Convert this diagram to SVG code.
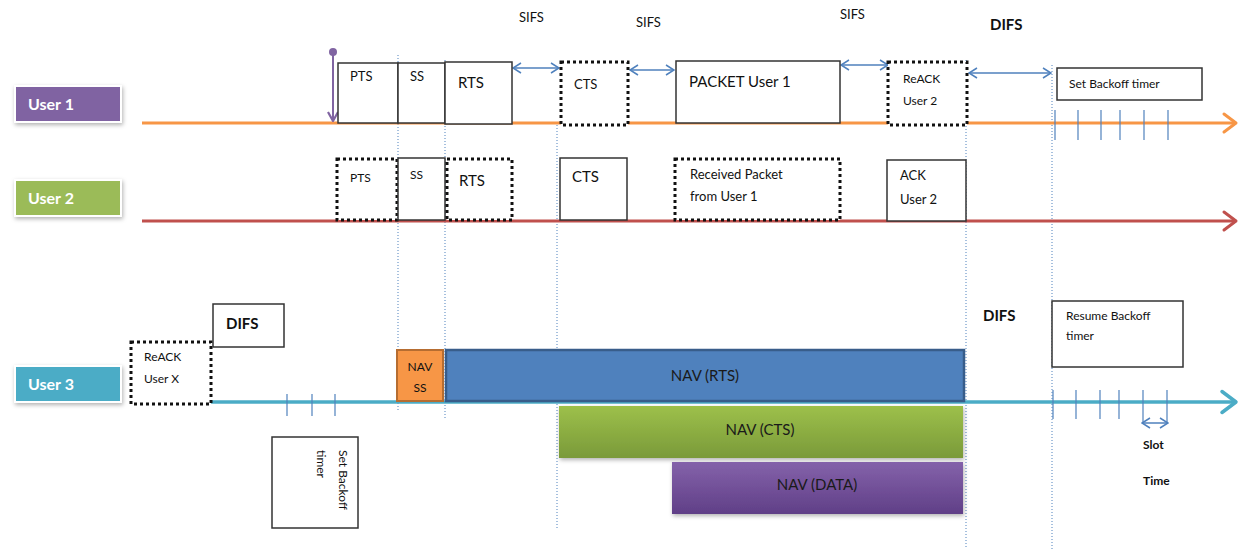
<svg xmlns="http://www.w3.org/2000/svg" width="1241" height="550" viewBox="0 0 1241 550">
<style>
text{font-family:Lato,"Open Sans","Liberation Sans",sans-serif;fill:#111}
.lbl{fill:#fff;font-weight:bold;font-size:16px}
.box{fill:#fff;stroke:#333;stroke-width:1.5}
.dot{fill:#fff;stroke:#111;stroke-width:3;stroke-dasharray:3 3}
.vd{stroke:#4F81BD;stroke-width:1;stroke-dasharray:1 2;fill:none}
.dbl{stroke:#4F81BD;stroke-width:1.5;fill:none}
.tick{stroke:#4F81BD;stroke-width:1.2}
.t12{font-size:12px}
.t13{font-size:13px}
.t15{font-size:15px}
.b15{font-size:15px;font-weight:bold}
.nav{font-size:15px;text-anchor:middle;fill:#1a1a1a}
</style>
<defs>
<filter id="sh" x="-10%" y="-20%" width="130%" height="150%"><feDropShadow dx="1" dy="2" stdDeviation="2" flood-color="#000" flood-opacity="0.3"/></filter>
<marker id="chev" markerWidth="6" markerHeight="8" refX="5" refY="4" orient="auto" markerUnits="strokeWidth"><polyline points="1,1 5,4 1,7" fill="none" stroke="context-stroke" stroke-width="1" stroke-linejoin="round" stroke-linecap="round"/></marker>
<marker id="ah" markerWidth="10" markerHeight="12" refX="8" refY="6" orient="auto-start-reverse" markerUnits="userSpaceOnUse"><polyline points="1,1 9,6 1,11" fill="none" stroke="#4F81BD" stroke-width="1.5"/></marker>
<marker id="pa" markerWidth="12" markerHeight="12" refX="6" refY="11" orient="0" markerUnits="userSpaceOnUse"><path d="M1,2 L6,11 L11,2" fill="none" stroke="#8064A2" stroke-width="2.2"/></marker>
<linearGradient id="gG" x1="0" y1="0" x2="0" y2="1"><stop offset="0" stop-color="#9DC04A"/><stop offset="1" stop-color="#7A9A3A"/></linearGradient>
<linearGradient id="gP" x1="0" y1="0" x2="0" y2="1"><stop offset="0" stop-color="#8462AA"/><stop offset="1" stop-color="#603F87"/></linearGradient>
</defs>
<rect width="1241" height="550" fill="#fff"/>

<g id="connectors">
<line x1="398" y1="55" x2="398" y2="410" class="vd"/>
<line x1="445" y1="60" x2="445" y2="420" class="vd"/>
<line x1="557" y1="125" x2="557" y2="528" class="vd"/>
<line x1="966" y1="60" x2="966" y2="549" class="vd"/>
<line x1="1052" y1="65" x2="1052" y2="549" class="vd"/>
<line x1="142" y1="123" x2="1236" y2="123" stroke="#F79646" stroke-width="3" marker-end="url(#chev)"/>
<line x1="142" y1="221" x2="1236" y2="221" stroke="#C0504D" stroke-width="3" marker-end="url(#chev)"/>
<line x1="142" y1="402" x2="1236" y2="402" stroke="#4BACC6" stroke-width="3.5" marker-end="url(#chev)"/>
<line x1="333" y1="52" x2="333" y2="121" stroke="#8064A2" stroke-width="2" marker-end="url(#pa)"/>
<circle cx="333" cy="52" r="4" fill="#8064A2"/>
<line x1="514" y1="68" x2="558" y2="68" class="dbl" marker-start="url(#ah)" marker-end="url(#ah)"/>
<line x1="631" y1="70" x2="673" y2="70" class="dbl" marker-start="url(#ah)" marker-end="url(#ah)"/>
<line x1="842" y1="65" x2="887" y2="65" class="dbl" marker-start="url(#ah)" marker-end="url(#ah)"/>
<line x1="970" y1="73" x2="1050" y2="73" class="dbl" marker-start="url(#ah)" marker-end="url(#ah)"/>
<line x1="1143" y1="423" x2="1167" y2="423" class="dbl" marker-start="url(#ah)" marker-end="url(#ah)"/>
<g class="tick">
<line x1="1055" y1="110" x2="1055" y2="140"/><line x1="1078" y1="110" x2="1078" y2="140"/><line x1="1101" y1="110" x2="1101" y2="140"/><line x1="1120" y1="110" x2="1120" y2="140"/><line x1="1144" y1="110" x2="1144" y2="140"/><line x1="1168" y1="110" x2="1168" y2="140"/>
<line x1="287" y1="394" x2="287" y2="416"/><line x1="312" y1="394" x2="312" y2="416"/><line x1="335" y1="394" x2="335" y2="416"/>
<line x1="1053" y1="390" x2="1053" y2="419"/><line x1="1076" y1="390" x2="1076" y2="419"/><line x1="1100" y1="390" x2="1100" y2="419"/><line x1="1119" y1="390" x2="1119" y2="419"/><line x1="1143" y1="390" x2="1143" y2="424"/><line x1="1167" y1="390" x2="1167" y2="424"/>
</g>
</g>

<g id="labels-top">
<text x="519" y="22" class="t13">SIFS</text>
<text x="636" y="27" class="t13">SIFS</text>
<text x="840" y="19" class="t13">SIFS</text>
<text x="990" y="30" class="b15">DIFS</text>
</g>

<g id="user1"><rect x="15" y="86" width="106" height="36" fill="#8064A2" stroke="#fff" stroke-width="2" filter="url(#sh)"/><text x="28" y="110" class="lbl">User 1</text></g>
<g id="u1-pts"><rect x="338" y="63" width="60" height="60" class="box"/><text x="350" y="81" class="t13">PTS</text></g>
<g id="u1-ss"><rect x="398" y="63" width="47" height="60" class="box"/><text x="410" y="81" class="t13">SS</text></g>
<g id="u1-rts"><rect x="445" y="62" width="67" height="62" class="box"/><text x="458" y="88" class="t15">RTS</text></g>
<g id="u1-cts"><rect x="561" y="62" width="67" height="63" class="dot"/><text x="574" y="89" class="t13">CTS</text></g>
<g id="u1-packet"><rect x="676" y="61" width="164" height="62" class="box"/><text x="689" y="87" class="t15">PACKET User 1</text></g>
<g id="u1-reack"><rect x="888" y="62" width="79" height="63" class="dot"/><text x="903" y="83" class="t12">ReACK</text><text x="903" y="105" class="t12">User 2</text></g>
<g id="u1-backoff"><rect x="1057" y="68" width="145" height="32" class="box"/><text x="1069" y="88" class="t12">Set Backoff timer</text></g>

<g id="user2"><rect x="15" y="180" width="106" height="36" fill="#9BBB59" stroke="#fff" stroke-width="2" filter="url(#sh)"/><text x="28" y="204" class="lbl">User 2</text></g>
<g id="u2-pts"><rect x="337" y="159" width="60" height="61" class="dot"/><text x="350" y="182" class="t12">PTS</text></g>
<g id="u2-ss"><rect x="398" y="158" width="47" height="62" class="box"/><text x="410" y="179" class="t12">SS</text></g>
<g id="u2-rts"><rect x="447" y="159" width="65" height="61" class="dot"/><text x="459" y="186" class="t15">RTS</text></g>
<g id="u2-cts"><rect x="560" y="158" width="67" height="62" class="box"/><text x="572" y="182" class="t15">CTS</text></g>
<g id="u2-recv"><rect x="675" y="159" width="165" height="61" class="dot"/><text x="690" y="179" class="t13">Received Packet</text><text x="690" y="201" class="t13">from User 1</text></g>
<g id="u2-ack"><rect x="887" y="160" width="79" height="61" class="box"/><text x="900" y="180" class="t13">ACK</text><text x="900" y="204" class="t13">User 2</text></g>

<g id="user3"><rect x="15" y="366" width="106" height="36" fill="#4BACC6" stroke="#fff" stroke-width="2" filter="url(#sh)"/><text x="28" y="390" class="lbl">User 3</text></g>
<g id="u3-reack"><rect x="131" y="342" width="80" height="62" class="dot"/><text x="144" y="361" class="t12">ReACK</text><text x="144" y="383" class="t12">User X</text></g>
<g id="u3-difs"><rect x="213" y="304" width="71" height="43" class="box"/><text x="226" y="329" class="b15">DIFS</text></g>
<g id="u3-backoff"><rect x="272" y="437" width="86" height="91" class="box"/><text transform="translate(339,450) rotate(90)" class="t12">Set Backoff</text><text transform="translate(317,450) rotate(90)" class="t12">timer</text></g>
<g id="nav-ss"><rect x="397" y="350" width="46" height="51" fill="#F79646" stroke="#B66D31" stroke-width="2"/><text x="420" y="371" class="t12" text-anchor="middle">NAV</text><text x="420" y="392" class="t12" text-anchor="middle">SS</text></g>
<g id="nav-rts"><rect x="446" y="350" width="518" height="51" fill="#4F81BD" stroke="#385D8A" stroke-width="2.5"/><text x="705" y="381" class="nav">NAV (RTS)</text></g>
<g id="nav-cts"><rect x="559" y="406" width="404" height="52" fill="url(#gG)" filter="url(#sh)"/><text x="760" y="435" class="nav">NAV (CTS)</text></g>
<g id="nav-data"><rect x="672" y="462" width="291" height="52" fill="url(#gP)" filter="url(#sh)"/><text x="817" y="490" class="nav">NAV (DATA)</text></g>
<g id="u3-difs2"><text x="983" y="321" class="b15">DIFS</text></g>
<g id="u3-resume"><rect x="1052" y="301" width="131" height="66" class="box"/><text x="1066" y="320" class="t12">Resume Backoff</text><text x="1066" y="340" class="t12">timer</text></g>
<g id="slot"><text x="1143" y="449" class="t12" font-weight="bold">Slot</text><text x="1143" y="485" class="t12" font-weight="bold">Time</text></g>
</svg>
